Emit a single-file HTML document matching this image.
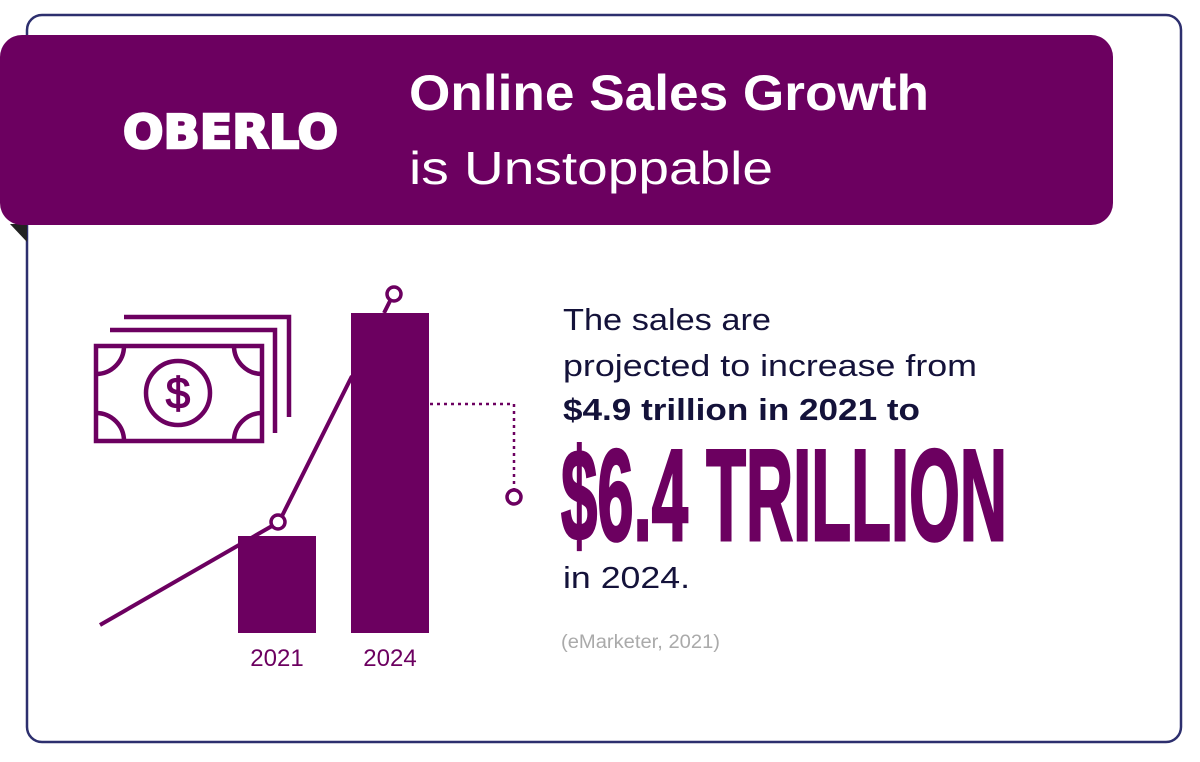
<!DOCTYPE html>
<html><head><meta charset="utf-8"><style>
html,body{margin:0;padding:0;background:#fff;}
svg{display:block;}
text{font-family:"Liberation Sans",sans-serif;}
</style></head><body>
<svg width="1200" height="762" viewBox="0 0 1200 762" xmlns="http://www.w3.org/2000/svg">
<rect x="0" y="0" width="1200" height="762" fill="#fff"/>
<rect x="27" y="15" width="1154" height="727" rx="15" fill="#fff" stroke="#2d2f6e" stroke-width="2.5"/>
<polygon points="10,224 27,224 27,242" fill="#222"/>
<rect x="0" y="35" width="1113" height="190" rx="22" fill="#6c0060"/>
<text x="123" y="148" font-size="46" font-weight="900" fill="#fff" stroke="#fff" stroke-width="2.5" textLength="215" lengthAdjust="spacingAndGlyphs" style="font-family:'DejaVu Sans',sans-serif">OBERLO</text>
<text x="409" y="110" font-size="50" font-weight="bold" fill="#fff" textLength="520" lengthAdjust="spacingAndGlyphs">Online Sales Growth</text>
<text x="409" y="184" font-size="46" fill="#fff" textLength="364" lengthAdjust="spacingAndGlyphs">is Unstoppable</text>

<g fill="none" stroke="#6c0060" stroke-width="4.5">
<polyline points="110,330 275,330 275,433"/>
<polyline points="124,317 289,317 289,417"/>
<rect x="96" y="346" width="166" height="95"/>
<circle cx="178" cy="393" r="32"/>
<path d="M96,374 A28,28 0 0 0 124,346"/>
<path d="M234,346 A28,28 0 0 0 262,374"/>
<path d="M124,441 A28,28 0 0 0 96,413"/>
<path d="M262,413 A28,28 0 0 0 234,441"/>
</g>
<text x="178" y="408" font-size="44" fill="#6c0060" stroke="#6c0060" stroke-width="1.2" text-anchor="middle">$</text>

<rect x="238" y="536" width="78" height="97" fill="#6c0060"/>
<rect x="351" y="313" width="78" height="320" fill="#6c0060"/>
<g stroke="#6c0060" stroke-width="4" fill="none">
<line x1="100" y1="625" x2="272" y2="526"/>
<line x1="282" y1="516" x2="352" y2="376"/>
<line x1="384" y1="313" x2="390" y2="301"/>
<polyline points="430,404 514,404 514,490" stroke-dasharray="3,4" stroke-width="2.5"/>
</g>
<g stroke="#6c0060" stroke-width="3.5" fill="#fff">
<circle cx="278" cy="522" r="7"/>
<circle cx="394" cy="294" r="7"/>
<circle cx="514" cy="497" r="7"/>
</g>
<text x="277" y="666" font-size="24" fill="#6c0060" text-anchor="middle">2021</text>
<text x="390" y="666" font-size="24" fill="#6c0060" text-anchor="middle">2024</text>

<text x="563" y="330" font-size="31" fill="#14123a" textLength="208" lengthAdjust="spacingAndGlyphs">The sales are</text>
<text x="563" y="376" font-size="31" fill="#14123a" textLength="414" lengthAdjust="spacingAndGlyphs">projected to increase from</text>
<text x="563" y="420" font-size="31" font-weight="bold" fill="#14123a" textLength="357" lengthAdjust="spacingAndGlyphs">$4.9 trillion in 2021 to</text>
<text x="561" y="540" font-size="130" font-weight="bold" fill="#6c0060" stroke="#6c0060" stroke-width="3" textLength="446" lengthAdjust="spacingAndGlyphs" style="font-family:'Liberation Sans Narrow','Liberation Sans',sans-serif">$6.4 TRILLION</text>
<text x="563" y="588" font-size="31" fill="#14123a" textLength="127" lengthAdjust="spacingAndGlyphs">in 2024.</text>
<text x="561" y="648" font-size="19" fill="#aaa" textLength="159" lengthAdjust="spacingAndGlyphs">(eMarketer, 2021)</text>
</svg>
</body></html>
